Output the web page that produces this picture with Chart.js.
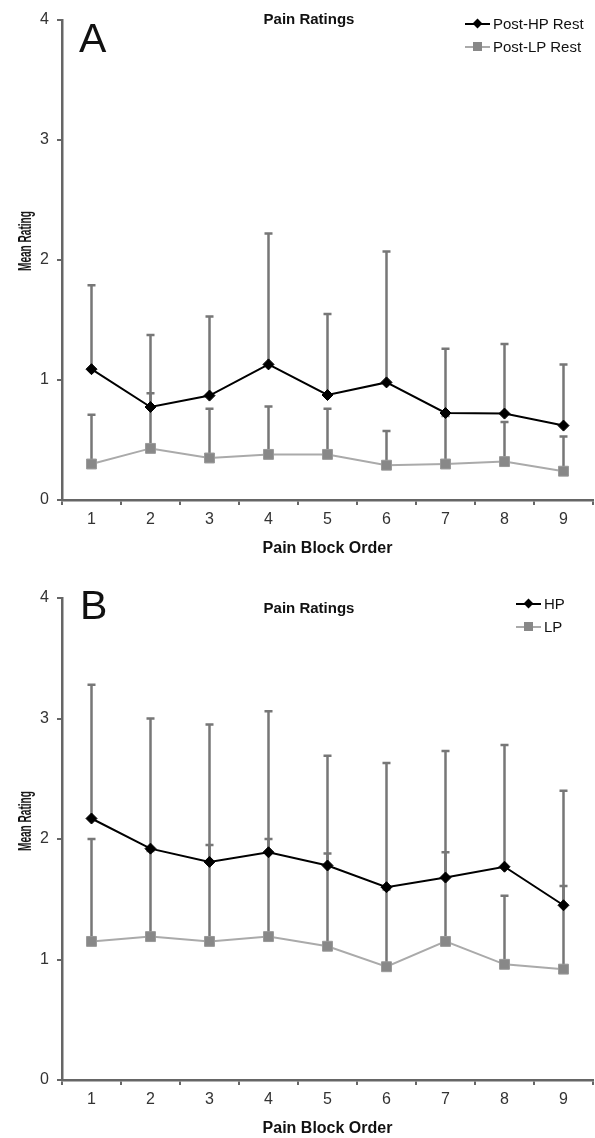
<!DOCTYPE html>
<html>
<head>
<meta charset="utf-8">
<script src="https://cdn.jsdelivr.net/npm/chart.js@4.4.1/dist/chart.umd.min.js"></script>
<style>
  body { margin: 0; background: #fff; font-family: "Liberation Sans", Arial, sans-serif; color: #111; overflow: hidden; }
  .panel { position: absolute; left: 0; width: 595px; overflow: hidden; }
  .panel canvas { position: absolute; left: 0; top: 0; }
  .letter { position: absolute; font-size: 41px; line-height: 1; }
  .title { position: absolute; font-weight: bold; font-size: 15px; line-height: 1; white-space: nowrap; transform: translate(-50%, -50%); }
  .ytitle { position: absolute; font-weight: bold; font-size: 18px; line-height: 1; white-space: nowrap;
            transform: translate(-50%, -50%) rotate(-90deg) scaleX(0.56); }
  .legend-row { position: absolute; height: 20px; font-size: 15px; line-height: 20px; white-space: nowrap; }
  .legend-row .swatch { position: absolute; left: 0; top: 9px; width: 25px; height: 2px; }
  .legend-row .mark { position: absolute; }
  .legend-row span.txt { position: absolute; left: 28px; top: 0; }
</style>
</head>
<body>

<div class="panel" style="top:0;height:565px">
  <canvas id="chartA" width="601" height="565"></canvas>
  <div class="letter" style="left:79px;top:18px">A</div>
  <div class="title" style="left:309px;top:18px">Pain Ratings</div>
  <div class="ytitle" style="left:25px;top:241px">Mean Rating</div>
  <div class="legend-row" style="left:465px;top:14px">
    <div class="swatch" style="background:#000"></div>
    <div class="mark" style="left:9px;top:6px;width:7px;height:7px;background:#000;transform:rotate(45deg)"></div>
    <span class="txt">Post-HP Rest</span>
  </div>
  <div class="legend-row" style="left:465px;top:37px">
    <div class="swatch" style="background:#aaa"></div>
    <div class="mark" style="left:8px;top:5px;width:9px;height:9px;background:#888"></div>
    <span class="txt">Post-LP Rest</span>
  </div>
</div>

<div class="panel" style="top:570px;height:568px">
  <canvas id="chartB" width="601" height="568"></canvas>
  <div class="letter" style="left:80px;top:15px">B</div>
  <div class="title" style="left:309px;top:37px">Pain Ratings</div>
  <div class="ytitle" style="left:25px;top:251px">Mean Rating</div>
  <div class="legend-row" style="left:516px;top:24px">
    <div class="swatch" style="background:#000"></div>
    <div class="mark" style="left:9px;top:6px;width:7px;height:7px;background:#000;transform:rotate(45deg)"></div>
    <span class="txt">HP</span>
  </div>
  <div class="legend-row" style="left:516px;top:47px">
    <div class="swatch" style="background:#aaa"></div>
    <div class="mark" style="left:8px;top:5px;width:9px;height:9px;background:#888"></div>
    <span class="txt">LP</span>
  </div>
</div>

<script>
// categories
const blocks = ["1", "2", "3", "4", "5", "6", "7", "8", "9"];
const yTicks = [0, 1, 2, 3, 4];

// panel A: post-rest ratings (mean and top of error bar)
const hpRestMean = [1.09, 0.775, 0.87, 1.13, 0.875, 0.98, 0.725, 0.72, 0.62];
const hpRestTop  = [1.79, 1.375, 1.53, 2.22, 1.55, 2.07, 1.26, 1.30, 1.13];
const lpRestMean = [0.30, 0.43, 0.35, 0.38, 0.38, 0.29, 0.30, 0.32, 0.24];
const lpRestTop  = [0.71, 0.89, 0.76, 0.78, 0.76, 0.575, 0.70, 0.65, 0.53];

// panel B: HP / LP ratings
const hpMean = [2.17, 1.92, 1.81, 1.89, 1.78, 1.60, 1.68, 1.77, 1.45];
const hpTop  = [3.28, 3.00, 2.95, 3.06, 2.69, 2.63, 2.73, 2.78, 2.40];
const lpMean = [1.15, 1.19, 1.15, 1.19, 1.11, 0.94, 1.15, 0.96, 0.92];
const lpTop  = [2.00, 1.90, 1.95, 2.00, 1.88, 1.58, 1.89, 1.53, 1.61];

// upward-only error bars, drawn under the lines
const errorBars = {
  id: "errorBars",
  beforeDatasetsDraw(chart) {
    const ctx = chart.ctx;
    const xs = chart.scales.x, ys = chart.scales.y;
    ctx.save();
    ctx.strokeStyle = "#777";
    ctx.lineWidth = 2.5;
    chart.data.datasets.forEach((ds) => {
      ds.data.forEach((v, i) => {
        const px = xs.getPixelForValue(i);
        const p0 = ys.getPixelForValue(v);
        const p1 = ys.getPixelForValue(ds.errTop[i]);
        ctx.beginPath();
        ctx.moveTo(px, p0);
        ctx.lineTo(px, p1);
        ctx.moveTo(px - 4, p1);
        ctx.lineTo(px + 4, p1);
        ctx.stroke();
      });
    });
    ctx.restore();
  },
};

function makeChart(id, hp, hpErr, lp, lpErr, g) {
  const ctx = document.getElementById(id).getContext("2d");
  return new Chart(ctx, {
    type: "line",
    data: {
      labels: blocks,
      datasets: [
        {
          label: "HP",
          data: hp,
          errTop: hpErr,
          borderColor: "#000",
          borderWidth: 2,
          pointStyle: "rectRot",
          pointRadius: 5.5,
          pointBackgroundColor: "#000",
          pointBorderColor: "#000",
          pointBorderWidth: 1,
          tension: 0,
        },
        {
          label: "LP",
          data: lp,
          errTop: lpErr,
          borderColor: "#aaa",
          borderWidth: 2,
          pointStyle: "rect",
          pointRadius: 7,
          pointBackgroundColor: "#888",
          pointBorderColor: "#999",
          pointBorderWidth: 1,
          tension: 0,
        },
      ],
    },
    options: {
      responsive: false,
      animation: false,
      events: [],
      layout: { padding: { top: g.top, right: 2, left: 0, bottom: 0 } },
      plugins: { legend: { display: false }, tooltip: { enabled: false } },
      scales: {
        x: {
          offset: true,
          grid: { offset: true, drawOnChartArea: false, drawTicks: true, tickLength: 5, color: "#666", lineWidth: 2 },
          border: { display: true, color: "#666", width: 2.5 },
          ticks: { color: "#333", font: { family: "Liberation Sans", size: 16 }, padding: 5 },
          title: {
            display: true,
            text: "Pain Block Order",
            color: "#111",
            font: { family: "Liberation Sans", size: 16, weight: "bold" },
            padding: { top: 0, bottom: g.titlePad },
          },
          afterFit(scale) {
            scale.height = g.xHeight;
            scale.paddingLeft = 0;
            scale.paddingRight = 0;
          },
        },
        y: {
          min: 0,
          max: 4,
          afterBuildTicks(scale) { scale.ticks = yTicks.map((v) => ({ value: v })); },
          grid: { drawOnChartArea: false, drawTicks: true, tickLength: 5, color: "#666", lineWidth: 2 },
          border: { display: true, color: "#666", width: 2.5 },
          ticks: { color: "#333", font: { family: "Liberation Sans", size: 16 }, padding: 8 },
          afterFit(scale) { scale.width = 62; },
        },
      },
    },
    plugins: [errorBars],
  });
}

const chartA = makeChart("chartA", hpRestMean, hpRestTop, lpRestMean, lpRestTop, { top: 20, xHeight: 65, titlePad: 7 });
const chartB = makeChart("chartB", hpMean, hpTop, lpMean, lpTop, { top: 28, xHeight: 58, titlePad: 0 });
</script>
</body>
</html>
